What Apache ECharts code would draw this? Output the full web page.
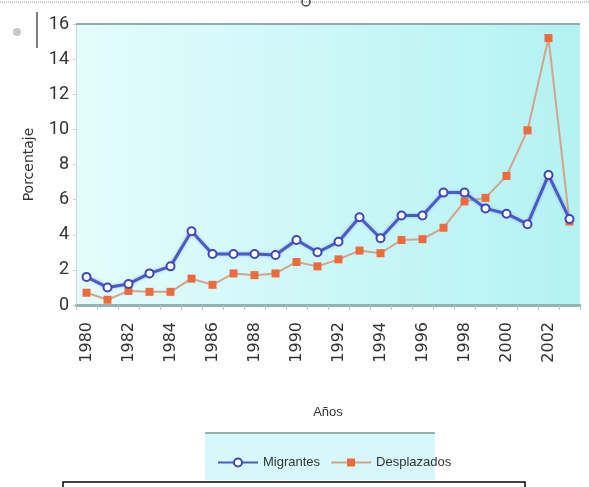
<!DOCTYPE html>
<html><head><meta charset="utf-8">
<script src="https://cdn.jsdelivr.net/npm/echarts@6/dist/echarts.min.js"></script>
<style>html,body{margin:0;padding:0;background:#fff}#c{width:589px;height:487px}</style>
</head><body><div id="c"></div>
<script>
var years = ['1980','1981','1982','1983','1984','1985','1986','1987','1988','1989','1990','1991','1992','1993','1994','1995','1996','1997','1998','1999','2000','2001','2002','2003'];
var migrantes = [1.6,1.0,1.2,1.8,2.2,4.2,2.9,2.9,2.9,2.85,3.7,3.0,3.6,5.0,3.8,5.1,5.1,6.4,6.4,5.5,5.2,4.6,7.4,4.9];
var desplazados = [0.7,0.3,0.8,0.75,0.75,1.5,1.15,1.8,1.7,1.8,2.45,2.2,2.6,3.1,2.95,3.7,3.75,4.4,5.9,6.1,7.35,9.95,15.2,4.75];
var yTicks = [0,2,4,6,8,10,12,14,16];

var chart = echarts.init(document.getElementById('c'), null, {renderer:'canvas'});
var narrow = '"Liberation Sans","Roboto",sans-serif';
chart.setOption({
  animation:false,
  backgroundColor:'#fff',
  grid:{left:76,right:9,top:24,bottom:182,show:true,borderWidth:0,
    backgroundColor:new echarts.graphic.LinearGradient(0,0,1,0,[{offset:0,color:'#e4fcfc'},{offset:1,color:'#b4f2f2'}])},
  xAxis:{type:'category',data:years,boundaryGap:true,
    name:'Años',nameLocation:'middle',nameGap:101,
    nameTextStyle:{fontFamily:narrow,fontSize:13,color:'#333'},
    axisLine:{lineStyle:{color:'#93b3b3',width:3}},
    axisTick:{show:true,interval:0,length:5,lineStyle:{color:'#b8c8c8'}},
    axisLabel:{interval:1,rotate:90,margin:17,fontFamily:'"DejaVu Sans",sans-serif',fontSize:16,color:'#333'}},
  yAxis:{type:'value',min:0,max:16,interval:2,
    name:'Porcentaje',nameLocation:'middle',nameGap:40,nameRotate:90,
    nameTextStyle:{fontFamily:'"DejaVu Sans",sans-serif',fontSize:14,color:'#333'},
    axisLine:{show:true,lineStyle:{color:'#c8dada',width:1}},
    axisTick:{show:true,length:3,lineStyle:{color:'#c0d0d0'}},
    splitLine:{show:false},
    axisLabel:{margin:7,fontFamily:'"Roboto","Liberation Sans",sans-serif',fontSize:18,color:'#333',
      formatter:function(v){return yTicks.indexOf(v)>=0?String(v):'';}}},
  legend:{left:212,top:451,orient:'horizontal',itemGap:10,itemWidth:40,itemHeight:10,
    textStyle:{fontFamily:narrow,fontSize:13,color:'#333'},
    data:['Migrantes','Desplazados']},
  series:[
    {name:'Desplazados',type:'line',data:desplazados,symbol:'rect',symbolSize:8,
      lineStyle:{color:'#d2a48c',width:2},itemStyle:{color:'#ec6a3c',borderWidth:0},z:2},
    {name:'Migrantes',type:'line',data:migrantes,symbol:'circle',symbolSize:8,
      lineStyle:{color:'#4a5cc4',width:3,shadowColor:'rgba(120,140,230,0.6)',shadowBlur:3},
      itemStyle:{color:'#ffffff',borderColor:'#3c48b8',borderWidth:2},z:3}
  ],
  graphic:[
    {type:'rect',left:205,top:433,shape:{width:230,height:47},style:{fill:'#d6f8fa'},z:-1},
    {type:'line',shape:{x1:205,y1:433,x2:435,y2:433},style:{stroke:'#9ab0b0',lineWidth:2},z:-1},
    {type:'line',shape:{x1:76,y1:24,x2:580,y2:24},style:{stroke:'#90acac',lineWidth:2},z:10},
    {type:'rect',shape:{x:63,y:482,width:462,height:20},style:{fill:'#fff',stroke:'#000',lineWidth:1.5},z:10},
    {type:'line',shape:{x1:0,y1:2,x2:589,y2:2},style:{stroke:'#999',lineWidth:1,lineDash:[1,1]},z:10},
    {type:'circle',shape:{cx:17,cy:32,r:4},style:{fill:'#c8c8c8'},z:10},
    {type:'line',shape:{x1:37,y1:12,x2:37,y2:48},style:{stroke:'#555',lineWidth:1.5},z:10},
    {type:'circle',shape:{cx:306,cy:2,r:4},style:{fill:'none',stroke:'#444',lineWidth:1.5},z:10}
  ]
});
</script></body></html>
